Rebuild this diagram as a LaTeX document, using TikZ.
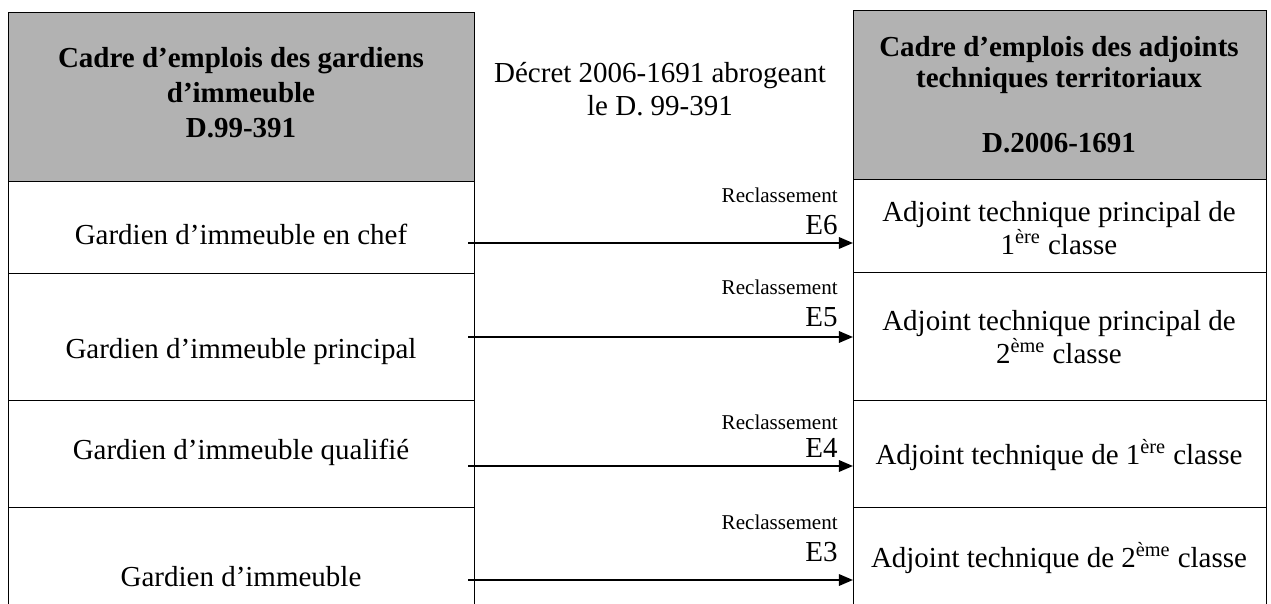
\documentclass[tikz,border=0pt]{standalone}
\usepackage{fontspec}
\setmainfont{Liberation Serif}
\usetikzlibrary{arrows.meta,positioning}

\begin{document}
\begin{tikzpicture}[x=0.02cm, y=-0.02cm]
% Define block styles
\tikzstyle{cell} = [rectangle, draw, line width=0.8pt, anchor=north west,
    inner sep=0pt]
\tikzstyle{head} = [cell, fill=black!30]
\tikzstyle{txt} = [align=center, inner sep=0pt, font=\fontsize{16.5}{19}\selectfont]
\tikzstyle{title} = [txt, font=\bfseries\fontsize{16.5}{20}\selectfont]
\tikzstyle{reclass} = [anchor=east, inner sep=0pt, font=\fontsize{12}{14}\selectfont]
\tikzstyle{grade} = [anchor=east, inner sep=0pt, font=\fontsize{16.5}{19}\selectfont]
\tikzstyle{line} = [draw, line width=1.1pt, -{Triangle[length=8pt, width=6.5pt]}]

    \useasboundingbox (0,0) rectangle (1271,604);

    % Place cells
    \node [head, minimum width=9.32cm, minimum height=3.38cm] (lhead) at (8,12) {};
    \node [cell, minimum width=9.32cm, minimum height=1.84cm] (s6) at (8,181) {};
    \node [cell, minimum width=9.32cm, minimum height=2.54cm] (s5) at (8,273) {};
    \node [cell, minimum width=9.32cm, minimum height=2.14cm] (s4) at (8,400) {};
    \node [cell, minimum width=9.32cm, minimum height=3cm] (s3) at (8,507) {};
    \node [head, minimum width=8.26cm, minimum height=3.38cm] (rhead) at (853,10) {};
    \node [cell, minimum width=8.26cm, minimum height=1.86cm] (t6) at (853,179) {};
    \node [cell, minimum width=8.26cm, minimum height=2.56cm] (t5) at (853,272) {};
    \node [cell, minimum width=8.26cm, minimum height=2.14cm] (t4) at (853,400) {};
    \node [cell, minimum width=8.26cm, minimum height=3cm] (t3) at (853,507) {};

    % Place texts
    \node [title] (ltitle) at (241,93) {Cadre d’emplois des gardiens\\d’immeuble\\D.99-391};
    \node [title] (rtitle) at (1059,95) {Cadre d’emplois des adjoints\\[-2.5pt]techniques territoriaux\\[17pt]D.2006-1691};
    \node [txt] (decret) at (660,89) {Décret 2006-1691 abrogeant\\le D. 99-391};
    \node [txt] (g6) at (241,234) {Gardien d’immeuble en chef};
    \node [txt] (g5) at (241,352) {Gardien d’immeuble principal};
    \node [txt] (g4) at (241,452) {Gardien d’immeuble qualifié};
    \node [txt] (g3) at (241,577) {Gardien d’immeuble};
    \node [txt] (n6) at (1059,228) {Adjoint technique principal de\\1\textsuperscript{ère} classe};
    \node [txt] (n5) at (1059,337) {Adjoint technique principal de\\2\textsuperscript{ème} classe};
    \node [txt] (n4) at (1059,455) {Adjoint technique de 1\textsuperscript{ère} classe};
    \node [txt] (n3) at (1059,558) {Adjoint technique de 2\textsuperscript{ème} classe};
    \node [reclass] (r6) at (838,195) {Reclassement};
    \node [grade] (e6) at (838,225) {E6};
    \node [reclass] (r5) at (838,287) {Reclassement};
    \node [grade] (e5) at (838,317) {E5};
    \node [reclass] (r4) at (838,422) {Reclassement};
    \node [grade] (e4) at (838,448) {E4};
    \node [reclass] (r3) at (838,522) {Reclassement};
    \node [grade] (e3) at (838,552) {E3};

    % Draw edges
    \coordinate (a6) at (468,243);
    \coordinate (a5) at (468,337);
    \coordinate (a4) at (468,466);
    \coordinate (a3) at (468,580);
    \path [line] (a6) -- (a6 -| t6.west);
    \path [line] (a5) -- (a5 -| t5.west);
    \path [line] (a4) -- (a4 -| t4.west);
    \path [line] (a3) -- (a3 -| t3.west);
\end{tikzpicture}
\end{document}
